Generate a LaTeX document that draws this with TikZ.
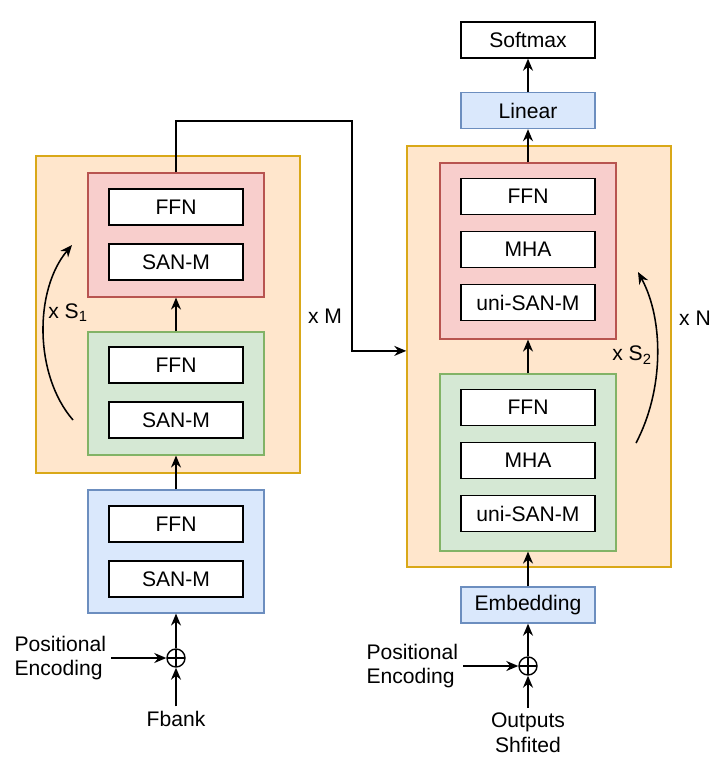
\documentclass[tikz,border=0pt]{standalone}
\usepackage{fontspec}
\setmainfont{Liberation Sans}
\usetikzlibrary{arrows.meta,positioning}
\definecolor{orfill}{HTML}{FFE6CC}
\definecolor{ordraw}{HTML}{D9A818}
\definecolor{redfill}{HTML}{F8CECC}
\definecolor{reddraw}{HTML}{B85450}
\definecolor{grnfill}{HTML}{D5E8D4}
\definecolor{grndraw}{HTML}{82B366}
\definecolor{blufill}{HTML}{DAE8FC}
\definecolor{bludraw}{HTML}{6C8EBF}
\tikzset{node distance=1.375cm, auto,
  layer/.style={draw=black, fill=white, line width=1pt, minimum width=3.35cm, minimum height=0.9cm, inner sep=0pt},
  stack/.style={draw=ordraw, fill=orfill, line width=1pt, minimum width=6.6cm, inner sep=0pt},
  redblock/.style={draw=reddraw, fill=redfill, line width=0.8pt, minimum width=4.4cm, inner sep=0pt},
  grnblock/.style={draw=grndraw, fill=grnfill, line width=0.8pt, minimum width=4.4cm, inner sep=0pt},
  blublock/.style={draw=bludraw, fill=blufill, line width=0.8pt, minimum width=4.4cm, inner sep=0pt},
  blulayer/.style={layer, draw=bludraw, fill=blufill},
  sum/.style={draw, circle, line width=1pt, minimum size=0.45cm, inner sep=0pt,
    path picture={\draw[line width=1pt] (path picture bounding box.north) -- (path picture bounding box.south)
      (path picture bounding box.west) -- (path picture bounding box.east);}},
  arr/.style={-{Stealth[length=0.3cm,width=0.25cm]}, line width=1.1pt}}

\begin{document}
\begin{tikzpicture}[x=0.025cm, y=-0.025cm, font=\fontsize{15}{17.7}\selectfont]
  \fill[white] (0,0) rectangle (714,762);
  \useasboundingbox (0,0) rectangle (714,762);

  % encoder
  \node (outL)  [stack, minimum height=7.925cm] at (168,314.5) {};
  \node (redL)  [redblock, minimum height=3.1cm] at (176,235) {};
  \node (ffnA)  [layer] at (176,207) {FFN};
  \node (sanA)  [layer, below of=ffnA] {SAN-M};
  \node (grnL)  [grnblock, minimum height=3.075cm] at (176,393.5) {};
  \node (ffnB)  [layer] at (176,365) {FFN};
  \node (sanB)  [layer, below of=ffnB] {SAN-M};
  \node (bluL)  [blublock, minimum height=3.075cm] at (176,551.5) {};
  \node (ffnC)  [layer] at (176,524) {FFN};
  \node (sanC)  [layer, below of=ffnC] {SAN-M};
  \node (sumL)  [sum] at (176,658) {};
  \node (posL)  [align=left, anchor=east] at (111,658) {Positional\\Encoding};
  \node (fbank) at (176,719) {Fbank};
  \node (repS1) at (68,313) {x S\textsubscript{1}};
  \node (repM)  at (325,316) {x M};
  \coordinate (s1a) at (73,420);
  \coordinate (s1b) at (72,245);
  \coordinate (turn) at (352,121);

  % decoder
  \node (outR)    [stack, minimum height=10.525cm] at (539,356.5) {};
  \node (redR)    [redblock, minimum height=4.4cm] at (528,251) {};
  \node (mhaA)    [layer] at (528,249.5) {MHA};
  \node (ffnD)    [layer, above of=mhaA, node distance=1.325cm] {FFN};
  \node (uniA)    [layer, below of=mhaA, node distance=1.325cm] {uni-SAN-M};
  \node (grnR)    [grnblock, minimum height=4.425cm] at (528,462.5) {};
  \node (mhaB)    [layer] at (528,460.5) {MHA};
  \node (ffnE)    [layer, above of=mhaB, node distance=1.325cm] {FFN};
  \node (uniB)    [layer, below of=mhaB, node distance=1.325cm] {uni-SAN-M};
  \node (linear)  [blulayer] at (528,110.5) {Linear};
  \node (softmax) [layer] at (528,40) {Softmax};
  \node (embed)   [blulayer] at (528,605) {Embedding};
  \node (sumR)    [sum] at (528,666) {};
  \node (posR)    [align=left, anchor=east] at (463,666) {Positional\\Encoding};
  \node (outputs) [align=center] at (528,733) {Outputs\\Shfited};
  \node (repS2)   at (632,355) {x S\textsubscript{2}};
  \node (repN)    at (695,318) {x N};
  \coordinate (s2a) at (636,443);
  \coordinate (s2b) at (638,272);

  % connectors
  \draw[arr] (fbank) -- (sumL);
  \draw[arr] (posL.east) -- (sumL.west);
  \draw[arr] (sumL) -- (bluL);
  \draw[arr] (bluL) -- (grnL);
  \draw[arr] (grnL) -- (redL);
  \draw[arr] (s1a) .. controls (34,375) and (34,290) .. (s1b);
  \draw[arr] (redL.north) |- (turn) |- ([yshift=0.14cm]outR.west);
  \draw[arr] (outputs) -- (sumR);
  \draw[arr] (posR.east) -- (sumR.west);
  \draw[arr] (sumR) -- (embed);
  \draw[arr] (embed) -- (grnR);
  \draw[arr] (grnR) -- (redR);
  \draw[arr] (redR) -- (linear);
  \draw[arr] (linear) -- (softmax);
  \draw[arr] (s2a) .. controls (664,390) and (664,320) .. (s2b);
\end{tikzpicture}
\end{document}
